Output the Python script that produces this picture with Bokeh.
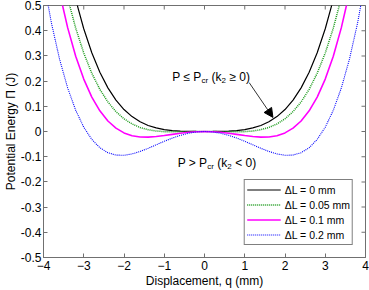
from bokeh.plotting import figure
from bokeh.models import (Legend, LegendItem, Label, Arrow, NormalHead,
                          FixedTicker, Range1d)
from bokeh.embed import file_html
from bokeh.resources import INLINE

# ---------------- data ----------------
q = [-4.0, -3.8, -3.6, -3.4, -3.2, -3.0, -2.8, -2.6, -2.4, -2.2, -2.0,
     -1.8, -1.6, -1.4, -1.2, -1.0, -0.8, -0.6, -0.4, -0.2, 0.0,
     0.2, 0.4, 0.6, 0.8, 1.0, 1.2, 1.4, 1.6, 1.8, 2.0,
     2.2, 2.4, 2.6, 2.8, 3.0, 3.2, 3.4, 3.6, 3.8, 4.0]

pi_dl_0 = [1.2512, 1.0233, 0.8283, 0.6628, 0.5236, 0.4077, 0.3124, 0.2351, 0.1732, 0.1246, 0.0872,
           0.0591, 0.0385, 0.0239, 0.0141, 0.0077, 0.0038, 0.0017, 0.0006, 0.0001, 0.0,
           0.0001, 0.0006, 0.0017, 0.0038, 0.0077, 0.0141, 0.0239, 0.0385, 0.0591, 0.0872,
           0.1246, 0.1732, 0.2351, 0.3124, 0.4077, 0.5236, 0.6628, 0.8283, 1.0233, 1.2512]

pi_dl_005 = [1.0464, 0.8452, 0.6742, 0.5302, 0.4102, 0.3114, 0.2312, 0.1673, 0.1172, 0.0789, 0.0504,
             0.0300, 0.0160, 0.0071, 0.0019, -0.0006, -0.0014, -0.0012, -0.0007, -0.0002, 0.0,
             -0.0002, -0.0007, -0.0012, -0.0014, -0.0006, 0.0019, 0.0071, 0.0160, 0.0300, 0.0504,
             0.0789, 0.1172, 0.1673, 0.2312, 0.3114, 0.4102, 0.5302, 0.6742, 0.8452, 1.0464]

pi_dl_01 = [0.9184, 0.7185, 0.5509, 0.4121, 0.2988, 0.2079, 0.1365, 0.0820, 0.0416, 0.0132, -0.0056,
            -0.0166, -0.0217, -0.0223, -0.0201, -0.0161, -0.0114, -0.0069, -0.0032, -0.0008, 0.0,
            -0.0008, -0.0032, -0.0069, -0.0114, -0.0161, -0.0201, -0.0223, -0.0217, -0.0166, -0.0056,
            0.0132, 0.0416, 0.0820, 0.1365, 0.2079, 0.2988, 0.4121, 0.5509, 0.7185, 0.9184]

pi_dl_02 = [0.6016, 0.4281, 0.2864, 0.1729, 0.0842, 0.0171, -0.0315, -0.0644, -0.0842, -0.0935, -0.0944,
            -0.0890, -0.0792, -0.0667, -0.0528, -0.0389, -0.0261, -0.0152, -0.0069, -0.0018, 0.0,
            -0.0018, -0.0069, -0.0152, -0.0261, -0.0389, -0.0528, -0.0667, -0.0792, -0.0890, -0.0944,
            -0.0935, -0.0842, -0.0644, -0.0315, 0.0171, 0.0842, 0.1729, 0.2864, 0.4281, 0.6016]

series_labels = ["\u0394L = 0 mm", "\u0394L = 0.05 mm", "\u0394L = 0.1 mm", "\u0394L = 0.2 mm"]

x_ticks = [-4, -3, -2, -1, 0, 1, 2, 3, 4]
y_ticks = [-0.5, -0.4, -0.3, -0.2, -0.1, 0.0, 0.1, 0.2, 0.3, 0.4, 0.5]
y_tick_labels = ["-0.5", "-0.4", "-0.3", "-0.2", "-0.1", "0", "0.1", "0.2", "0.3", "0.4", "0.5"]

X_MIN, X_MAX = -4, 4
Y_MIN, Y_MAX = -0.5, 0.5

# ---------------- figure ----------------
FONT = "Liberation Sans"
AX = "#707070"

p = figure(width=369, height=290, x_range=Range1d(X_MIN, X_MAX), y_range=Range1d(Y_MIN, Y_MAX),
           output_backend="svg", toolbar_location=None,
           min_border_left=41, min_border_right=4, min_border_top=5, min_border_bottom=32)
p.grid.visible = False
p.outline_line_color = AX
p.outline_line_width = 1
p.background_fill_color = "white"
p.border_fill_color = "white"

for ax in (p.xaxis[0], p.yaxis[0]):
    ax.major_tick_in = 4
    ax.major_tick_out = 0
    ax.minor_tick_line_color = None
    ax.axis_line_color = AX
    ax.major_tick_line_color = AX
    ax.major_label_text_font = FONT
    ax.major_label_text_font_size = "12px"
    ax.major_label_text_color = "black"
    ax.axis_label_text_font = FONT
    ax.axis_label_text_font_size = "12px"
    ax.axis_label_text_font_style = "normal"
    ax.axis_label_text_color = "black"

p.xaxis[0].ticker = FixedTicker(ticks=x_ticks)
p.xaxis[0].axis_label = "Displacement, q (mm)"
p.xaxis[0].major_label_standoff = 3
p.xaxis[0].axis_label_standoff = 1

p.yaxis[0].ticker = FixedTicker(ticks=y_ticks)
p.yaxis[0].major_label_overrides = {t: s for t, s in zip(y_ticks, y_tick_labels)}
p.yaxis[0].axis_label = "Potential Energy \u03a0 (J)"
p.yaxis[0].major_label_standoff = 2
p.yaxis[0].axis_label_standoff = 0

# mirrored inward tick marks on the top and right edges of the box
p.rect(x=x_ticks, y=[Y_MAX] * len(x_ticks), width=1, height=8,
       width_units="screen", height_units="screen", fill_color=AX, line_color=None)
p.rect(x=[X_MAX] * len(y_ticks), y=y_ticks, width=8, height=1,
       width_units="screen", height_units="screen", fill_color=AX, line_color=None)

# ---------------- curves ----------------
r0 = p.line(q, pi_dl_0, line_color="black", line_width=1.2)
r1 = p.line(q, pi_dl_005, line_color="#1a9a1a", line_width=1.5, line_dash="1 1")
r2 = p.line(q, pi_dl_01, line_color="#ff00ff", line_width=1.6)
r3 = p.line(q, pi_dl_02, line_color="#0000ff", line_width=1.1, line_dash="1 1")

legend = Legend(items=[LegendItem(label=series_labels[i], renderers=[r])
                       for i, r in enumerate([r0, r1, r2, r3])],
                location="bottom_right", margin=12, padding=2, spacing=0,
                glyph_width=34, glyph_height=15, label_height=15, label_standoff=4,
                border_line_color="black", border_line_width=1,
                background_fill_color="white", background_fill_alpha=1.0,
                label_text_font=FONT, label_text_font_size="10.5px", label_text_color="black")
p.add_layout(legend)

# ---------------- annotations ----------------
def add_rich(x, y, parts):
    for txt, dx, size, dy in parts:
        p.add_layout(Label(x=x, y=y, x_offset=dx, y_offset=dy, text=txt,
                           text_font=FONT, text_font_size=size, text_color="black",
                           text_baseline="alphabetic", text_align="left"))

ann1_x, ann1_y = -0.8, 0.216
add_rich(ann1_x, ann1_y, [("P \u2264 P", 0, "12px", 0), ("cr", 29.3, "8px", -3),
                          ("(k", 39.3, "12px", 0), ("2", 49.3, "8px", -3),
                          ("\u2265 0)", 57.1, "12px", 0)])

ann2_x, ann2_y = -0.667, -0.125
add_rich(ann2_x, ann2_y, [("P > P", 0, "12px", 0), ("cr", 29.7, "8px", -3),
                          ("(k", 39.7, "12px", 0), ("2", 49.7, "8px", -3),
                          ("< 0)", 57.5, "12px", 0)])

p.add_layout(Arrow(x_start=1.11, y_start=0.194, x_end=1.70, y_end=0.056,
                   line_color="#333333", line_width=1,
                   end=NormalHead(size=9, fill_color="black", line_color="black")))

open("out.html", "w").write(file_html(p, INLINE))
